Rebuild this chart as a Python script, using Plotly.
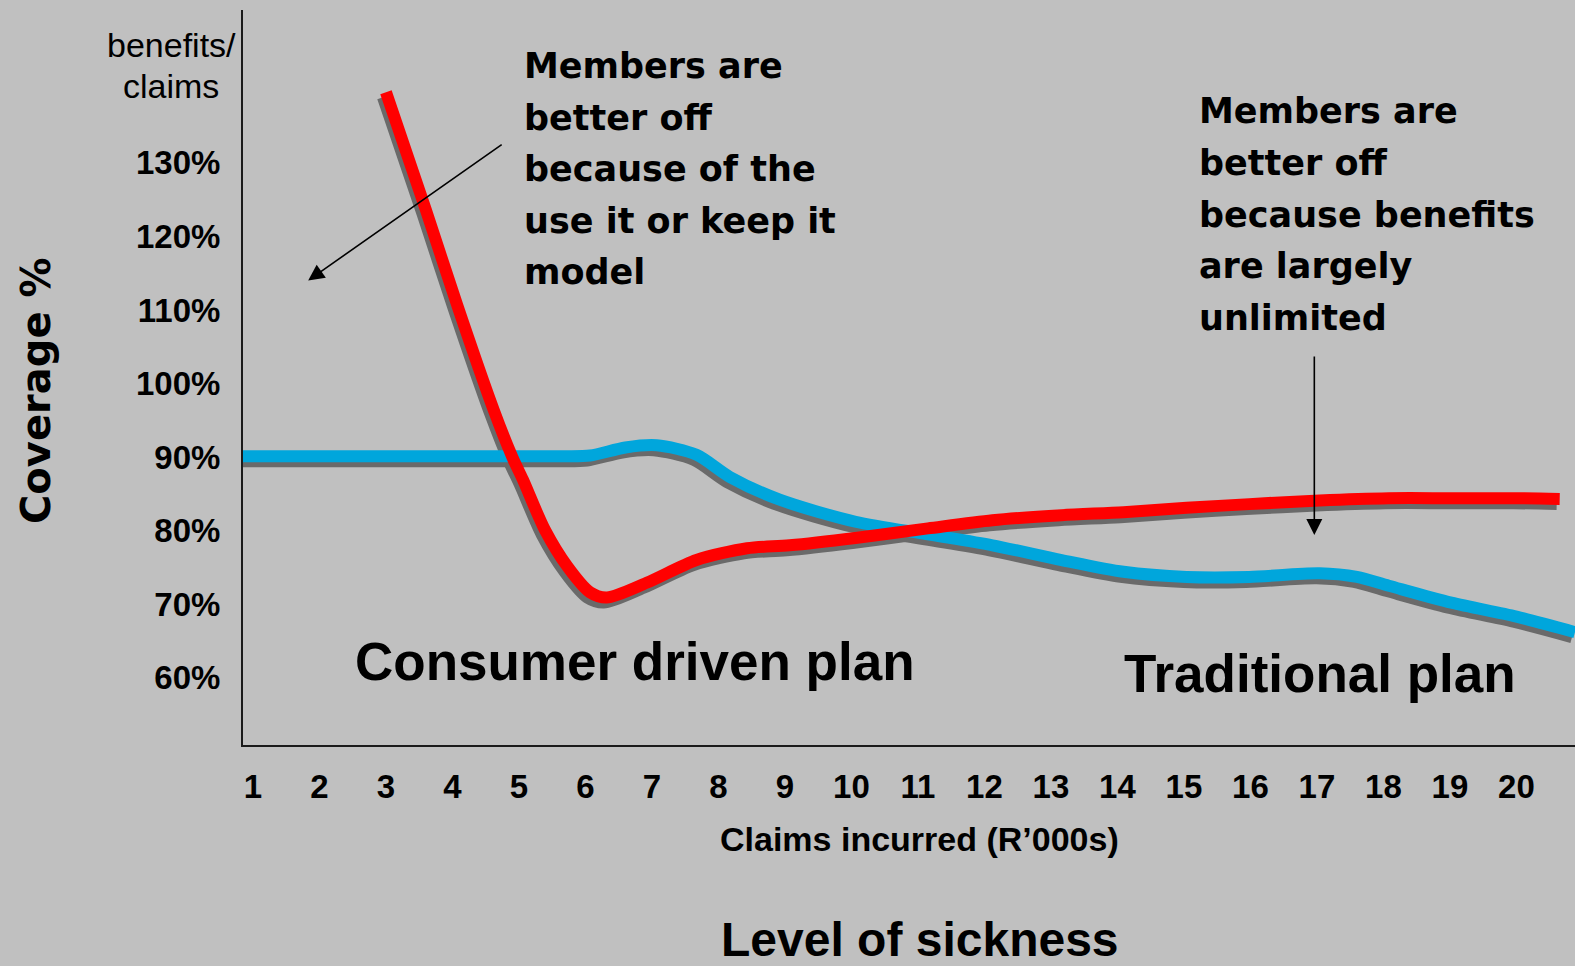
import plotly.graph_objects as go

# ---------------- data ----------------
claims_ticks = list(range(1, 21))
claims_labels = [str(v) for v in claims_ticks]
coverage_ticks = [60, 70, 80, 90, 100, 110, 120, 130]
coverage_labels = [f"{v}%" for v in coverage_ticks]

consumer_x = [3.0, 3.6, 4.07, 4.62, 4.9, 5.06, 5.39, 5.73, 6.07, 6.32, 6.92, 7.67, 8.43,
              9.07, 10.06, 11.15, 12.12, 13.16, 14.09, 15.04, 15.98, 17.04, 18.08, 19.02, 20.0, 20.65]
consumer_y = [139.6, 123.6, 110.7, 96.4, 90.0, 86.9, 80.1, 75.1, 71.6, 70.9, 72.9, 76.0, 77.6,
              78.0, 79.0, 80.3, 81.4, 82.1, 82.5, 83.1, 83.6, 84.1, 84.4, 84.4, 84.4, 84.3]

traditional_x = [0.85, 2.0, 3.0, 4.0, 5.0, 5.7, 6.07, 6.6, 7.07, 7.67, 8.17, 8.92, 10.06, 11.15,
                 12.12, 13.16, 14.09, 15.04, 15.98, 17.04, 17.6, 18.08, 19.02, 20.0, 20.88]
traditional_y = [90.1, 90.1, 90.1, 90.1, 90.1, 90.1, 90.2, 91.3, 91.6, 90.3, 87.3, 84.2, 81.2, 79.5,
                 78.0, 76.0, 74.4, 73.7, 73.7, 74.2, 73.7, 72.5, 70.2, 68.3, 66.2]

x_range = [0.85, 20.88]
y_range = [50.85, 150.78]

# ---------------- layout geometry ----------------
W, H = 1575, 966
ML, MR, MT, MB = 243, 0, 10, 221
PW, PH = W - ML - MR, H - MT - MB

def px(xp):
    return (xp - ML) / PW

def py(yp):
    return (H - MB - yp) / PH

x_per_px = (x_range[1] - x_range[0]) / PW
y_per_px = (y_range[1] - y_range[0]) / PH
shadow_dx, shadow_dy = -3 * x_per_px, -5 * y_per_px

BLUE = "#00A6DC"
RED = "#FF0000"
SHADOW = "#6a6a6a"
LW = 12
ARIAL = "Liberation Sans, Arial, sans-serif"
WIDE = "DejaVu Sans, Verdana, sans-serif"

fig = go.Figure()

def add_line(xs, ys, color, name, shadow=False):
    if shadow:
        xs = [v + shadow_dx for v in xs]
        ys = [v + shadow_dy for v in ys]
    fig.add_trace(go.Scatter(
        x=xs, y=ys, mode="lines", name=name, showlegend=False,
        hoverinfo="skip" if shadow else None,
        line=dict(color=color, width=LW, shape="spline", smoothing=0.8),
    ))

add_line(traditional_x, traditional_y, SHADOW, "shadow", shadow=True)
add_line(consumer_x, consumer_y, SHADOW, "shadow", shadow=True)
add_line(traditional_x, traditional_y, BLUE, "Traditional plan")
add_line(consumer_x, consumer_y, RED, "Consumer driven plan")

annotations = []

def text(t, xp, yp, size, family=ARIAL, weight="bold", xanchor="left", yanchor="middle", angle=0):
    annotations.append(dict(
        text=t, x=px(xp), y=py(yp), xref="paper", yref="paper", showarrow=False,
        xanchor=xanchor, yanchor=yanchor, textangle=angle,
        font=dict(family=family, size=size, color="black", weight=weight),
    ))

left_lines = ["Members are", "better off", "because of the", "use it or keep it", "model"]
for i, t in enumerate(left_lines):
    text(t, 522, 66 + i * 51.5, 35, family=WIDE)

right_lines = ["Members are", "better off", "because benefits", "are largely", "unlimited"]
for i, t in enumerate(right_lines):
    text(t, 1197, 111 + i * 51.8, 35, family=WIDE)

text("Consumer driven plan", 635, 661, 53, xanchor="center")
text("Traditional plan", 1320, 673, 53, xanchor="center")
text("benefits/", 171, 45, 34, weight="normal", xanchor="center")
text("claims", 171, 86, 34, weight="normal", xanchor="center")
text("Claims incurred (R\u2019000s)", 920, 839, 34, xanchor="center")
text("Level of sickness", 920, 939, 48, xanchor="center")
text("Coverage %", 36, 391, 40, family=WIDE, xanchor="center", angle=-90)

# arrows (tips given in data units)
annotations.append(dict(
    x=1.83, y=114.0, xref="x", yref="y", ax=503 - 308, ay=143 - 280, axref="pixel", ayref="pixel",
    text="", showarrow=True, arrowhead=2, arrowsize=2, arrowwidth=1.6, arrowcolor="black",
))
annotations.append(dict(
    x=16.96, y=79.4, xref="x", yref="y", ax=0, ay=355 - 535,
    text="", showarrow=True, arrowhead=2, arrowsize=2, arrowwidth=1.6, arrowcolor="black",
))

fig.update_layout(
    width=W, height=H,
    margin=dict(l=ML, r=MR, t=MT, b=MB, pad=0),
    paper_bgcolor="#C0C0C0", plot_bgcolor="#C0C0C0",
    showlegend=False,
    annotations=annotations,
    xaxis=dict(
        range=x_range, tickmode="array", tickvals=claims_ticks, ticktext=claims_labels,
        showgrid=False, zeroline=False, showline=True, linecolor="#1a1a1a", linewidth=2,
        ticks="", ticklabelstandoff=11,
        tickfont=dict(family=ARIAL, size=33, color="black", weight="bold"),
    ),
    yaxis=dict(
        range=y_range, tickmode="array", tickvals=coverage_ticks, ticktext=coverage_labels,
        showgrid=False, zeroline=False, showline=True, linecolor="#1a1a1a", linewidth=2,
        ticks="", ticklabelstandoff=14,
        tickfont=dict(family=ARIAL, size=33, color="black", weight="bold"),
    ),
)

fig.write_html(
    "out.html",
    config={"displayModeBar": False},
    post_script="document.body.style.margin='0';document.body.style.background='#C0C0C0';",
)
